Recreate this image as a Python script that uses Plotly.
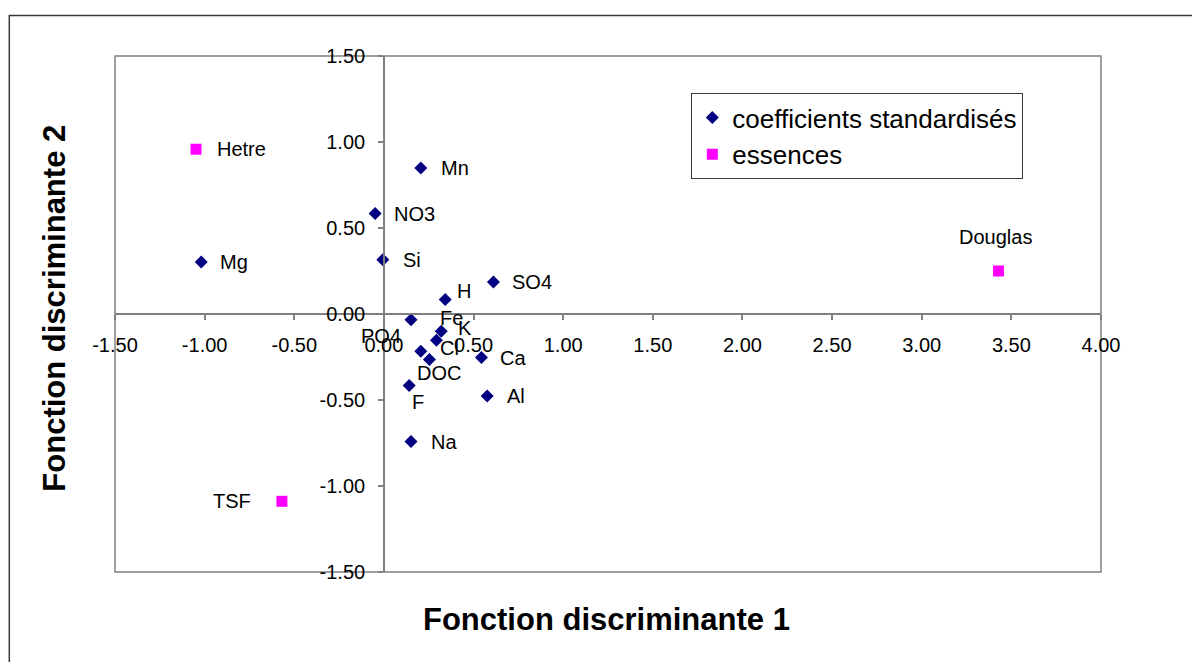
import plotly.graph_objects as go

# ---- data ----
coef_names = ["Mn", "NO3", "Si", "Mg", "SO4", "H", "PO4", "Fe", "K", "Cl", "DOC", "Ca", "Al", "F", "Na"]
coef_x = [0.206, -0.049, -0.006, -1.019, 0.611, 0.342, 0.151, 0.320, 0.293, 0.206, 0.254, 0.544, 0.576, 0.141, 0.151]
coef_y = [0.849, 0.584, 0.316, 0.302, 0.186, 0.084, -0.033, -0.101, -0.153, -0.217, -0.265, -0.253, -0.477, -0.415, -0.742]

ess_names = ["Hetre", "TSF", "Douglas"]
ess_x = [-1.048, -0.569, 3.428]
ess_y = [0.958, -1.089, 0.250]

x_tickvals = [-1.5, -1.0, -0.5, 0.0, 0.5, 1.0, 1.5, 2.0, 2.5, 3.0, 3.5, 4.0]
x_ticktext = ["-1.50", "-1.00", "-0.50", "0.00", "0.50", "1.00", "1.50", "2.00", "2.50", "3.00", "3.50", "4.00"]
y_tickvals = [-1.5, -1.0, -0.5, 0.0, 0.5, 1.0, 1.5]
y_ticktext = ["-1.50", "-1.00", "-0.50", "0.00", "0.50", "1.00", "1.50"]

# ---- label placement (pixel offsets: anchor, dx, dy downward) ----
coef_label_pos = {
    "Mn": ("left", 18, 0), "NO3": ("left", 17, 0), "Si": ("left", 18, 0),
    "Mg": ("left", 17, 0), "SO4": ("left", 17, 0), "H": ("left", 10, -9),
    "PO4": ("center", -30, 16), "Fe": ("center", 10, -13), "K": ("center", 29, -12),
    "Cl": ("center", 29, -3), "DOC": ("center", 10, 13), "Ca": ("left", 17, 0),
    "Al": ("left", 18, 0), "F": ("center", 9, 17), "Na": ("left", 18, 0),
}
ess_label_pos = {
    "Hetre": ("left", 19, 0), "TSF": ("right", -29, 0), "Douglas": ("center", -3, -34),
}

FONT = "Liberation Sans, Arial, sans-serif"
AXIS_GRAY = "#808080"

fig = go.Figure()
fig.add_trace(go.Scatter(
    x=coef_x, y=coef_y, mode="markers", name="coefficients standardisés",
    marker=dict(symbol="diamond", size=10, color="#000080", line=dict(width=0)),
    legendgroup="a", cliponaxis=False,
))
fig.add_trace(go.Scatter(
    x=ess_x, y=ess_y, mode="markers", name="essences",
    marker=dict(symbol="square", size=11, color="#FF00FF", line=dict(width=0)),
    legendgroup="b", cliponaxis=False,
))

annotations = []
for names, xs, ys, pos in ((coef_names, coef_x, coef_y, coef_label_pos),
                           (ess_names, ess_x, ess_y, ess_label_pos)):
    for n, xv, yv in zip(names, xs, ys):
        anchor, dx, dy = pos[n]
        annotations.append(dict(
            x=xv, y=yv, xref="x", yref="y", text=n, showarrow=False,
            xanchor=anchor, yanchor="middle", xshift=dx, yshift=-dy,
            font=dict(family=FONT, size=20, color="black"),
        ))

annotations.append(dict(
    x=0.498, y=-0.093, xref="paper", yref="paper", text="<b>Fonction discriminante 1</b>",
    showarrow=False, xanchor="center", yanchor="middle",
    font=dict(family=FONT, size=31, color="black"),
))
annotations.append(dict(
    x=-0.061, y=0.512, xref="paper", yref="paper", text="<b>Fonction discriminante 2</b>",
    showarrow=False, xanchor="center", yanchor="middle", textangle=-90,
    font=dict(family=FONT, size=31, color="black"),
))

shapes = [
    # plot-area border
    dict(type="rect", xref="paper", yref="paper", x0=0, x1=1, y0=0, y1=1,
         line=dict(color=AXIS_GRAY, width=1.5), layer="below"),
    # outer chart border
    dict(type="rect", xref="paper", yref="paper", x0=-0.1072, x1=1.2, y0=-0.3, y1=1.0785,
         line=dict(color="#3a3a3a", width=1.5), layer="below"),
]

fig.update_layout(
    width=1200, height=662,
    margin=dict(l=107, r=107, t=48, b=98, autoexpand=False),
    paper_bgcolor="white", plot_bgcolor="white",
    font=dict(family=FONT, size=20, color="black"),
    showlegend=True,
    legend=dict(
        x=0.5845, y=0.9283, xanchor="left", yanchor="top",
        bgcolor="white", bordercolor="#3a3a3a", borderwidth=1,
        font=dict(family=FONT, size=26, color="black"),
        tracegroupgap=9, traceorder="normal",
    ),
    annotations=annotations,
    shapes=shapes,
    xaxis=dict(
        range=[-1.5, 4.0], anchor="free", position=0.5,
        showgrid=False, zeroline=False, showline=True, linecolor=AXIS_GRAY, linewidth=1.5,
        ticks="outside", ticklen=5, tickcolor=AXIS_GRAY, tickwidth=1.5,
        tickvals=x_tickvals, ticktext=x_ticktext, ticklabelstandoff=8,
        tickfont=dict(family=FONT, size=20, color="black"),
    ),
    yaxis=dict(
        range=[-1.5, 1.5], anchor="free", position=1.5 / 5.5,
        showgrid=False, zeroline=False, showline=True, linecolor=AXIS_GRAY, linewidth=1.5,
        ticks="outside", ticklen=5, tickcolor=AXIS_GRAY, tickwidth=1.5,
        tickvals=y_tickvals, ticktext=y_ticktext, ticklabelstandoff=9,
        tickfont=dict(family=FONT, size=20, color="black"),
    ),
)

fig.write_html("out.html")
